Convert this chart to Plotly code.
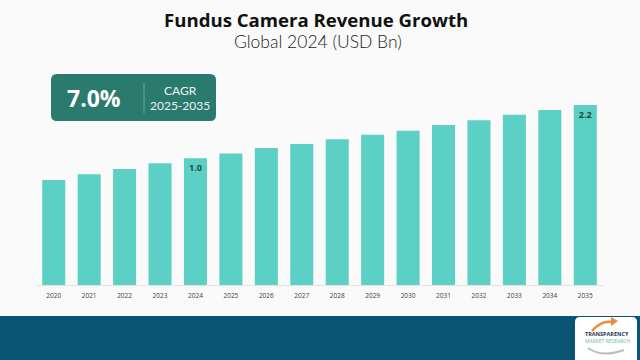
import plotly.graph_objects as go

# ---------------- data ----------------
years = ["2020", "2021", "2022", "2023", "2024", "2025", "2026", "2027",
         "2028", "2029", "2030", "2031", "2032", "2033", "2034", "2035"]
revenue = [0.51, 0.64, 0.76, 0.89, 1.0, 1.11, 1.23, 1.32,
           1.43, 1.53, 1.62, 1.75, 1.86, 1.98, 2.09, 2.2]
labeled_years = ["2024", "2035"]
cagr_value = "7.0%"
cagr_label = "CAGR"
cagr_period = "2025-2035"
title_text = "Fundus Camera Revenue Growth"
subtitle_text = "Global 2024 (USD Bn)"

# ---------------- layout geometry ----------------
W, H = 640, 360
L, R, T, B = 36, 37, 95, 75
PW, PH = W - L - R, H - T - B
AXIS_BASE = -1.853          # hidden axis floor (chart is drawn with an offset baseline)
AXIS_TOP = AXIS_BASE + PH / 44.4


def px(x):
    return (x - L) / PW


def py(y):
    return (H - B - y) / PH


def rounded_rect(x0, y0, x1, y1, r):
    """Rounded rectangle path in paper coords from pixel coords."""
    X0, X1 = px(x0), px(x1)
    Y0, Y1 = py(y0), py(y1)  # Y0 is top (larger)
    rx, ry = r / PW, r / PH
    return (f"M {X0+rx},{Y0} L {X1-rx},{Y0} Q {X1},{Y0} {X1},{Y0-ry} "
            f"L {X1},{Y1+ry} Q {X1},{Y1} {X1-rx},{Y1} "
            f"L {X0+rx},{Y1} Q {X0},{Y1} {X0},{Y1+ry} "
            f"L {X0},{Y0-ry} Q {X0},{Y0} {X0+rx},{Y0} Z")


bar_text = [f"{v:.1f}" if y in labeled_years else "" for y, v in zip(years, revenue)]

fig = go.Figure()
fig.add_trace(go.Bar(
    x=years,
    y=[v - AXIS_BASE for v in revenue],
    base=AXIS_BASE,
    marker=dict(color="#5dd0c5", line=dict(width=0)),
    text=bar_text,
    textposition="inside",
    insidetextanchor="end",
    textangle=0,
    textfont=dict(family="Open Sans", size=9, color="#1e4a48", weight=700),
    customdata=revenue,
    hovertemplate="%{x}: %{customdata}<extra></extra>",
))

shapes = [
    # bottom band
    dict(type="rect", xref="paper", yref="paper", x0=px(0), x1=px(W), y0=py(H), y1=py(316),
         fillcolor="#0b5574", line=dict(width=0), layer="below"),
    # CAGR box
    dict(type="path", xref="paper", yref="paper", path=rounded_rect(51, 74, 216, 121, 6),
         fillcolor="#2b7a6e", line=dict(width=0)),
    # divider in CAGR box
    dict(type="line", xref="paper", yref="paper", x0=px(144), x1=px(144), y0=py(83), y1=py(113),
         line=dict(color="#6aa89e", width=1)),
    # logo box
    dict(type="path", xref="paper", yref="paper", path=rounded_rect(575, 317, 637, 366, 5),
         fillcolor="#ffffff", line=dict(width=0)),
    # logo arrows
    dict(type="path", xref="paper", yref="paper",
         path=f"M {px(592)},{py(331)} Q {px(601)},{py(320)} {px(613)},{py(322)}",
         line=dict(color="#f08a3c", width=2.5)),
    dict(type="path", xref="paper", yref="paper",
         path=f"M {px(611)},{py(317)} L {px(618)},{py(321)} L {px(611)},{py(326)} Z",
         fillcolor="#f08a3c", line=dict(width=0)),
    dict(type="path", xref="paper", yref="paper",
         path=f"M {px(588)},{py(348)} Q {px(602)},{py(358)} {px(624)},{py(350)}",
         line=dict(color="#b9bcc0", width=2)),
]

annotations = [
    dict(text=title_text, x=px(316), y=py(19), xref="paper", yref="paper",
         showarrow=False, xanchor="center", yanchor="middle",
         font=dict(family="Open Sans", size=18.6, color="#111111", weight=700)),
    dict(text=subtitle_text, x=px(318), y=py(41), xref="paper", yref="paper",
         showarrow=False, xanchor="center", yanchor="middle",
         font=dict(family="Lato", size=17.5, color="#1a1a1a", weight=300)),
    dict(text=cagr_value, x=px(94), y=py(98), xref="paper", yref="paper",
         showarrow=False, xanchor="center", yanchor="middle",
         font=dict(family="Open Sans", size=23, color="#ffffff", weight=700)),
    dict(text=cagr_label, x=px(180), y=py(91), xref="paper", yref="paper",
         showarrow=False, xanchor="center", yanchor="middle",
         font=dict(family="Lato", size=12, color="#eaf3f1")),
    dict(text=cagr_period, x=px(180), y=py(105), xref="paper", yref="paper",
         showarrow=False, xanchor="center", yanchor="middle",
         font=dict(family="Lato", size=12, color="#eaf3f1")),
    dict(text="TRANSPARENCY", x=px(607), y=py(334), xref="paper", yref="paper",
         showarrow=False, xanchor="center", yanchor="middle",
         font=dict(family="Open Sans", size=5.5, color="#1b3556", weight=700)),
    dict(text="MARKET RESEARCH", x=px(607), y=py(341), xref="paper", yref="paper",
         showarrow=False, xanchor="center", yanchor="middle",
         font=dict(family="Open Sans", size=5, color="#6fb9ad")),
]

fig.update_layout(
    width=W, height=H, autosize=False,
    margin=dict(l=L, r=R, t=T, b=B, pad=0),
    paper_bgcolor="#fafafa",
    plot_bgcolor="#fafafa",
    bargap=0.35,
    showlegend=False,
    shapes=shapes,
    annotations=annotations,
    uniformtext=dict(minsize=6, mode="show"),
    xaxis=dict(
        type="category",
        showgrid=False, zeroline=False,
        showline=True, linecolor="#e3e3e3", linewidth=1,
        ticks="", ticklabelstandoff=4,
        tickfont=dict(family="Open Sans", size=6.5, color="#3a3a3a"),
        fixedrange=True,
    ),
    yaxis=dict(
        range=[AXIS_BASE, AXIS_TOP],
        visible=False, showgrid=False, zeroline=False, fixedrange=True,
    ),
)

fig.write_html(
    "out.html",
    config=dict(displayModeBar=False),
    post_script="document.body.style.margin='0';document.body.style.overflow='hidden';",
)
